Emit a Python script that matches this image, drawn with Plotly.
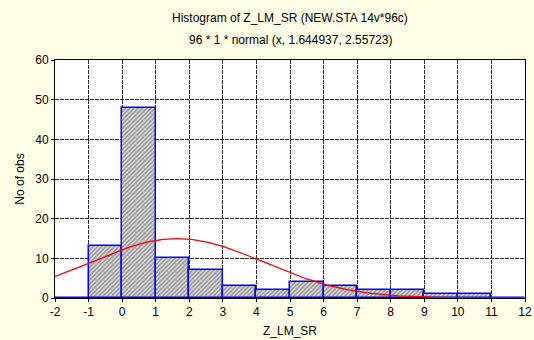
import numpy as np
import plotly.graph_objects as go

# Histogram bins (left edge, width 1) and observed counts
bin_left = [-2, -1, 0, 1, 2, 3, 4, 5, 6, 7, 8, 9, 10, 11]
counts = [0, 13, 48, 10, 7, 3, 2, 4, 3, 2, 2, 1, 1, 0]

# Fitted normal: N * binwidth * normal(x, mean, sd)
n_obs = 96
bin_width = 1
fit_mean = 1.644937
fit_sd = 2.55723

x_ticks = list(range(-2, 13))
x_tick_labels = [str(v) for v in x_ticks]
y_ticks = [0, 10, 20, 30, 40, 50, 60]

centers = [b + bin_width / 2 for b in bin_left]
xs = np.linspace(-2, 12, 400)
ys = n_obs * bin_width * np.exp(-0.5 * ((xs - fit_mean) / fit_sd) ** 2) / (fit_sd * np.sqrt(2 * np.pi))

font = "Liberation Sans, Arial, sans-serif"
fs = 12

fig = go.Figure()
fig.add_trace(go.Bar(
    x=centers, y=counts, width=bin_width,
    marker=dict(
        color="#dcdcdc",
        line=dict(color="#0000ff", width=1.5),
        pattern=dict(shape="/", size=3, solidity=0.5, fgcolor="#4a4a4a", bgcolor="#dcdcdc"),
    ),
    showlegend=False,
))
fig.add_trace(go.Scatter(
    x=xs, y=ys, mode="lines",
    line=dict(color="#ff0000", width=1.3),
    showlegend=False,
))

axis_common = dict(
    showgrid=True, gridcolor="#2a2a2a", griddash="4px,1px", gridwidth=1.4,
    showline=True, linecolor="black", linewidth=1, mirror=True,
    zeroline=False, ticks="outside", ticklen=3, tickcolor="black",
    tickfont=dict(family=font, size=fs, color="black"),
    automargin=False,
)

fig.update_layout(
    width=534, height=340,
    margin=dict(l=55, r=9, t=60, b=42),
    paper_bgcolor="#fefde6",
    plot_bgcolor="white",
    bargap=0,
    xaxis=dict(range=[-2, 12], tickvals=x_ticks, ticktext=x_tick_labels,
               title=dict(text="Z_LM_SR", font=dict(family=font, size=fs, color="black"), standoff=8),
               **axis_common),
    yaxis=dict(range=[0, 60], tickvals=y_ticks,
               title=dict(text="No of obs", font=dict(family=font, size=fs, color="black"), standoff=8),
               **axis_common),
)

# Two-line title above the plot area
fig.add_annotation(text="Histogram of Z_LM_SR (NEW.STA 14v*96c)", xref="paper", yref="paper",
                   x=0.5, y=1, yshift=42, showarrow=False, yanchor="middle",
                   font=dict(family=font, size=fs, color="black"))
fig.add_annotation(text="96 * 1 * normal (x, 1.644937, 2.55723)", xref="paper", yref="paper",
                   x=0.5, y=1, yshift=20, showarrow=False, yanchor="middle",
                   font=dict(family=font, size=fs, color="black"))

fig.write_html("out.html")
